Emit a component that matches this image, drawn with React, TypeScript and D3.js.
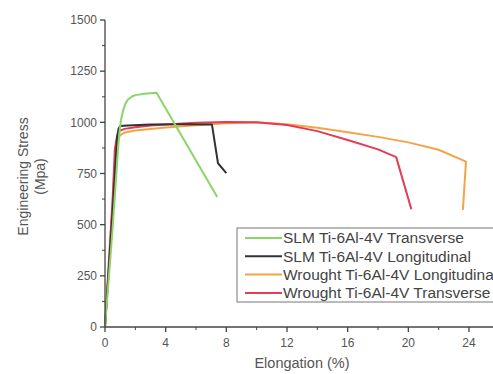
import React from "react";
import * as d3 from "d3";

const W = 493;
const H = 374;

const yTicks = [0, 250, 500, 750, 1000, 1250, 1500];
const xTicks = [0, 4, 8, 12, 16, 20, 24];

type P = [number, number];

const slmTransverse: P[] = [
  [0, 0], [0.5, 480], [0.85, 860], [0.95, 950], [1.05, 1010], [1.2, 1060], [1.35, 1092], [1.5, 1110], [1.75, 1125], [2.0, 1133], [2.6, 1140], [3.4, 1145], [7.4, 635],
];
const slmLongitudinal: P[] = [
  [0, 0], [0.5, 560], [0.8, 930], [0.9, 970], [1.0, 982], [1.5, 985], [3, 989], [5, 991], [7.05, 990], [7.45, 800], [8.0, 752],
];
const wroughtLongitudinal: P[] = [
  [0, 0], [0.5, 600], [0.7, 860], [0.85, 915], [1.0, 938], [1.3, 950], [2, 960], [3, 968], [4, 975], [6, 986], [8, 995], [10, 999], [12, 991], [14, 973], [16, 951], [18, 929], [20, 902], [22, 866], [23.8, 808], [23.6, 572],
];
const wroughtTransverse: P[] = [
  [0, 0], [0.5, 620], [0.65, 870], [0.8, 935], [0.95, 958], [1.3, 968], [2, 976], [3, 984], [4, 990], [6, 998], [8, 1002], [10, 1000], [12, 987], [14, 957], [16, 914], [18, 868], [19.2, 830], [20.2, 575],
];

const seriesNames = [
  "SLM Ti-6Al-4V Transverse",
  "SLM Ti-6Al-4V Longitudinal",
  "Wrought Ti-6Al-4V Longitudinal",
  "Wrought Ti-6Al-4V Transverse",
];
const seriesData = [slmTransverse, slmLongitudinal, wroughtLongitudinal, wroughtTransverse];
const seriesColors = ["#8cd46a", "#333333", "#f5a347", "#e53b55"];
const drawOrder = [2, 3, 1, 0];

export default function App() {
  const left = 105, right = 493, top = 20, bottom = 327;
  const x = d3.scaleLinear().domain([0, 24]).range([left, 469]);
  const y = d3.scaleLinear().domain([0, 1500]).range([bottom, top]);
  const line = d3
    .line<P>()
    .x((d) => x(d[0]))
    .y((d) => y(d[1]))
    .curve(d3.curveLinear);

  const axisColor = "#444";
  const textColor = "#555";
  const font = "Arial, 'Liberation Sans', sans-serif";

  const yMinor = d3.range(125, 1500, 250);
  const xMinor = d3.range(2, 26, 4);

  const legX = 237, legY = 228, legW = 262, legH = 74;

  return (
    <svg width={W} height={H} style={{ position: "absolute", left: 0, top: 0, background: "#fff" }} fontFamily={font}>
      <rect x={0} y={0} width={W} height={H} fill="#fff" />
      {drawOrder.map((i) => (
        <path key={i} d={line(seriesData[i]) || ""} fill="none" stroke={seriesColors[i]} strokeWidth={2} strokeLinejoin="round" />
      ))}
      {/* axes */}
      <line x1={left} x2={left} y1={top} y2={bottom} stroke={axisColor} strokeWidth={1.3} />
      <line x1={left} x2={right} y1={bottom} y2={bottom} stroke={axisColor} strokeWidth={1.3} />
      {yTicks.map((t) => (
        <g key={"y" + t}>
          <line x1={left - 5} x2={left} y1={y(t)} y2={y(t)} stroke={axisColor} strokeWidth={1.3} />
          <text x={left - 8} y={y(t)} dy="0.35em" textAnchor="end" fontSize={12} fill={textColor}>{t}</text>
        </g>
      ))}
      {yMinor.map((t) => (
        <line key={"ym" + t} x1={left - 3} x2={left} y1={y(t)} y2={y(t)} stroke={axisColor} strokeWidth={1} />
      ))}
      {xTicks.map((t) => (
        <g key={"x" + t}>
          <line x1={x(t)} x2={x(t)} y1={bottom} y2={bottom + 5} stroke={axisColor} strokeWidth={1.3} />
          <text x={x(t)} y={bottom + 20} textAnchor="middle" fontSize={12} fill={textColor}>{t}</text>
        </g>
      ))}
      {xMinor.map((t) => (
        <line key={"xm" + t} x1={x(t)} x2={x(t)} y1={bottom} y2={bottom + 3} stroke={axisColor} strokeWidth={1} />
      ))}
      <text x={(left + right) / 2 + 3} y={368} textAnchor="middle" fontSize={14.5} fill={textColor}>Elongation (%)</text>
      <g transform={`translate(28, ${(top + bottom) / 2 + 3}) rotate(-90)`}>
        <text x={0} y={0} textAnchor="middle" fontSize={14} fill={textColor}>Engineering Stress</text>
        <text x={0} y={17} textAnchor="middle" fontSize={14} fill={textColor}>(Mpa)</text>
      </g>
      {/* legend */}
      <rect x={legX} y={legY} width={legW} height={legH} fill="#fff" stroke="#777" strokeWidth={1} />
      {seriesNames.map((n, i) => (
        <g key={n}>
          <line x1={legX + 8} x2={legX + 45} y1={legY + 10 + i * 18.3} y2={legY + 10 + i * 18.3} stroke={seriesColors[i]} strokeWidth={2} />
          <text x={legX + 46} y={legY + 10 + i * 18.3} dy="0.35em" fontSize={15.5} fill="#444">{n}</text>
        </g>
      ))}
    </svg>
  );
}
